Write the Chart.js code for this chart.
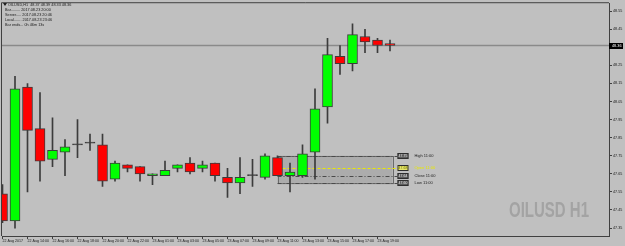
<!DOCTYPE html>
<html>
<head>
<meta charset="utf-8">
<script src="https://cdn.jsdelivr.net/npm/chart.js@4"></script>
<style>
html, body { margin: 0; padding: 0; background: #c0c0c0; }
#wrap { width: 625px; height: 246px; }
</style>
</head>
<body>
<div id="wrap"><canvas id="priceChart" width="625" height="246"></canvas></div>
<script>
// OILUSD H1 candles, 22 Aug 12:00 -> 23 Aug 20:00
const opens  = [47.54, 47.39, 48.13, 47.90, 47.73, 47.77, 47.81, 47.82, 47.81, 47.62, 47.70, 47.69, 47.64, 47.64, 47.68, 47.71,
                47.68, 47.71, 47.63, 47.60, 47.64, 47.63, 47.74, 47.64, 47.64, 47.77, 48.02, 48.30, 48.26, 48.41, 48.39, 48.37];
const highs  = [47.59, 48.19, 48.15, 48.10, 47.96, 47.84, 47.95, 47.87, 47.87, 47.72, 47.70, 47.69, 47.65, 47.72, 47.70, 47.74,
                47.72, 47.71, 47.68, 47.74, 47.73, 47.76, 47.75, 47.71, 47.81, 48.12, 48.40, 48.36, 48.48, 48.45, 48.40, 48.39];
const lows   = [47.38, 47.35, 47.55, 47.61, 47.69, 47.64, 47.74, 47.78, 47.58, 47.61, 47.66, 47.61, 47.59, 47.64, 47.66, 47.65,
                47.66, 47.61, 47.52, 47.54, 47.58, 47.62, 47.64, 47.55, 47.63, 47.62, 47.93, 48.20, 48.22, 48.32, 48.32, 48.33];
const closes = [47.39, 48.12, 47.89, 47.72, 47.78, 47.80, 47.81, 47.82, 47.61, 47.71, 47.68, 47.65, 47.65, 47.67, 47.70, 47.66,
                47.70, 47.64, 47.60, 47.63, 47.64, 47.75, 47.64, 47.66, 47.76, 48.01, 48.31, 48.26, 48.42, 48.38, 48.36, 48.36];

// one label every 2 bars
const timeLabels = ['22 Aug 2017', '22 Aug 14:00', '22 Aug 16:00', '22 Aug 18:00', '22 Aug 20:00', '22 Aug 22:00',
                    '23 Aug 01:00', '23 Aug 03:00', '23 Aug 05:00', '23 Aug 07:00', '23 Aug 09:00', '23 Aug 11:00',
                    '23 Aug 13:00', '23 Aug 15:00', '23 Aug 17:00', '23 Aug 19:00'];
const priceTicks = [48.55, 48.45, 48.35, 48.25, 48.15, 48.05, 47.95, 47.85, 47.75, 47.65, 47.55, 47.45, 47.35];
const lastPrice = 48.36;

// rectangle object drawn on the 11:00 bar
const boxLevels = [47.75, 47.68, 47.64, 47.60];
const boxNames = ['High 11:00', 'Open 11:00', 'Close 11:00', 'Low 11:00'];
const boxFrom = 22, boxTo = 31.2;

const infoLines = ['OILUSD,H1  48.37 48.39 48.33 48.36', 'Bar......... 2017.08.23 20:00', 'Server..... 2017.08.23 20:46',
                   'Local....... 2017.08.23 23:46', 'Bar ends... 0h 46m 13s'];

const WICK = '#3c3c3c';
const bodyColor = (o, c) => c > o ? '#00ff00' : (c < o ? '#ff0000' : WICK);
const FONT = 'Liberation Sans, Arial, sans-serif';

const overlayPlugin = {
    id: 'mt4Overlay',
    beforeDatasetsDraw(chart) {
        const { ctx, chartArea: a, scales: { x, y } } = chart;
        ctx.save();
        // watermark
        ctx.fillStyle = '#a3a3a3';
        ctx.font = `bold 22px ${FONT}`;
        const wm = 'OILUSD H1';
        const w = ctx.measureText(wm).width;
        ctx.translate(a.right - 20, a.bottom - 19);
        ctx.scale(80 / w, 1);
        ctx.textAlign = 'right';
        ctx.textBaseline = 'alphabetic';
        ctx.fillText(wm, 0, 0);
        ctx.restore();

        ctx.save();
        // current price line
        const py = y.getPixelForValue(lastPrice);
        ctx.strokeStyle = '#8a8a8a';
        ctx.lineWidth = 1.5;
        ctx.beginPath(); ctx.moveTo(a.left, py); ctx.lineTo(a.right, py); ctx.stroke();

        // rectangle
        const x0 = x.getPixelForValue(boxFrom), x1 = x.getPixelForValue(boxTo);
        const yTop = y.getPixelForValue(boxLevels[0]), yBot = y.getPixelForValue(boxLevels[3]);
        ctx.fillStyle = 'rgba(110,110,110,0.25)';
        ctx.fillRect(x0, yTop, x1 - x0, yBot - yTop);
        ctx.strokeStyle = '#6a6a6a';
        ctx.lineWidth = 1;
        ctx.strokeRect(Math.round(x0) + 0.5, Math.round(yTop) + 0.5, x1 - x0, yBot - yTop);

        boxLevels.forEach((lv, i) => {
            const ly = Math.round(y.getPixelForValue(lv)) + 0.5;
            ctx.strokeStyle = i === 1 ? '#eaea00' : '#4a4a4a';
            ctx.setLineDash(i === 1 ? [3, 2] : [4, 2, 1, 2]);
            ctx.beginPath(); ctx.moveTo(x0, ly); ctx.lineTo(x1 + 5, ly); ctx.stroke();
        });
        ctx.restore();
    },
    afterDatasetsDraw(chart) {
        const { ctx, chartArea: a, scales: { x, y } } = chart;
        ctx.save();
        const x1 = x.getPixelForValue(boxTo);
        ctx.textBaseline = 'middle';
        boxLevels.forEach((lv, i) => {
            const ly = Math.round(y.getPixelForValue(lv));
            ctx.fillStyle = i === 1 ? '#e6e66a' : '#5c5c5c';
            ctx.fillRect(x1 + 5, ly - 3, 11, 6);
            ctx.strokeStyle = '#2e2e2e';
            ctx.lineWidth = 1;
            ctx.strokeRect(x1 + 5.5, ly - 2.5, 10, 5);
            ctx.font = `3.5px ${FONT}`;
            ctx.fillStyle = i === 1 ? '#707000' : '#e8e8e8';
            ctx.textAlign = 'center';
            ctx.fillText(lv.toFixed(2), x1 + 10.5, ly);
            ctx.font = `4px ${FONT}`;
            ctx.textAlign = 'left';
            ctx.fillStyle = i === 1 ? '#e8e800' : '#202020';
            ctx.fillText(boxNames[i], x1 + 22, ly);
        });

        // top-left info block
        ctx.fillStyle = '#1a1a1a';
        ctx.font = `3.8px ${FONT}`;
        ctx.textAlign = 'left';
        infoLines.forEach((t, i) => ctx.fillText(t, i === 0 ? 8 : 5, 4.5 + i * 5));
        ctx.beginPath();
        ctx.moveTo(3, 3); ctx.lineTo(7, 3); ctx.lineTo(5, 6); ctx.closePath();
        ctx.fill();

        // last price tag on the axis
        const py = Math.round(y.getPixelForValue(lastPrice));
        ctx.fillStyle = '#000000';
        ctx.fillRect(a.right, py - 3, 14, 6);
        ctx.fillStyle = '#ffffff';
        ctx.font = `3.8px ${FONT}`;
        ctx.fillText(lastPrice.toFixed(2), a.right + 3, py);

        // window frame
        ctx.strokeStyle = '#404040';
        ctx.lineWidth = 1;
        ctx.beginPath();
        ctx.moveTo(a.left - 0.5, a.bottom); ctx.lineTo(a.left - 0.5, a.top - 0.5); ctx.lineTo(a.right, a.top - 0.5);
        ctx.stroke();
        ctx.restore();
    }
};

new Chart(document.getElementById('priceChart'), {
    type: 'bar',
    data: {
        datasets: [
            {
                label: 'body',
                data: opens.map((o, i) => ({ x: i, y: [o, closes[i]] })),
                backgroundColor: opens.map((o, i) => bodyColor(o, closes[i])),
                borderColor: WICK,
                borderWidth: 1,
                borderSkipped: false,
                barThickness: 10,
                minBarLength: 1,
                grouped: false,
                order: 0
            },
            {
                label: 'wick',
                data: lows.map((l, i) => ({ x: i, y: [l, highs[i]] })),
                backgroundColor: WICK,
                borderWidth: 0,
                barThickness: 1,
                grouped: false,
                order: 1
            }
        ]
    },
    options: {
        responsive: false,
        animation: false,
        events: [],
        layout: { padding: { top: 2, left: 2, right: 0, bottom: 0 } },
        plugins: { legend: { display: false }, tooltip: { enabled: false } },
        scales: {
            x: {
                type: 'linear',
                min: -0.04,
                max: 48.52,
                offset: false,
                grid: { offset: false, drawOnChartArea: false, tickLength: 3, color: '#404040' },
                border: { color: '#404040', width: 1 },
                afterBuildTicks: (scale) => { scale.ticks = timeLabels.map((_, k) => ({ value: k * 2 })); },
                afterFit: (scale) => { scale.height = 10; },
                ticks: {
                    autoSkip: false, maxRotation: 0, align: 'start', padding: 0,
                    color: '#1a1a1a', font: { size: 3.6, family: FONT },
                    callback: (v) => timeLabels[v / 2] || ''
                }
            },
            y: {
                type: 'linear',
                position: 'right',
                min: 47.306,
                max: 48.594,
                grid: { drawOnChartArea: false, tickLength: 3, color: '#404040' },
                border: { color: '#404040', width: 1 },
                afterBuildTicks: (scale) => { scale.ticks = priceTicks.map(v => ({ value: v })); },
                afterFit: (scale) => { scale.width = 16; },
                ticks: {
                    padding: 1, color: '#1a1a1a', font: { size: 3.7, family: FONT },
                    callback: (v) => Number(v).toFixed(2)
                }
            }
        }
    },
    plugins: [overlayPlugin]
});
</script>
</body>
</html>
